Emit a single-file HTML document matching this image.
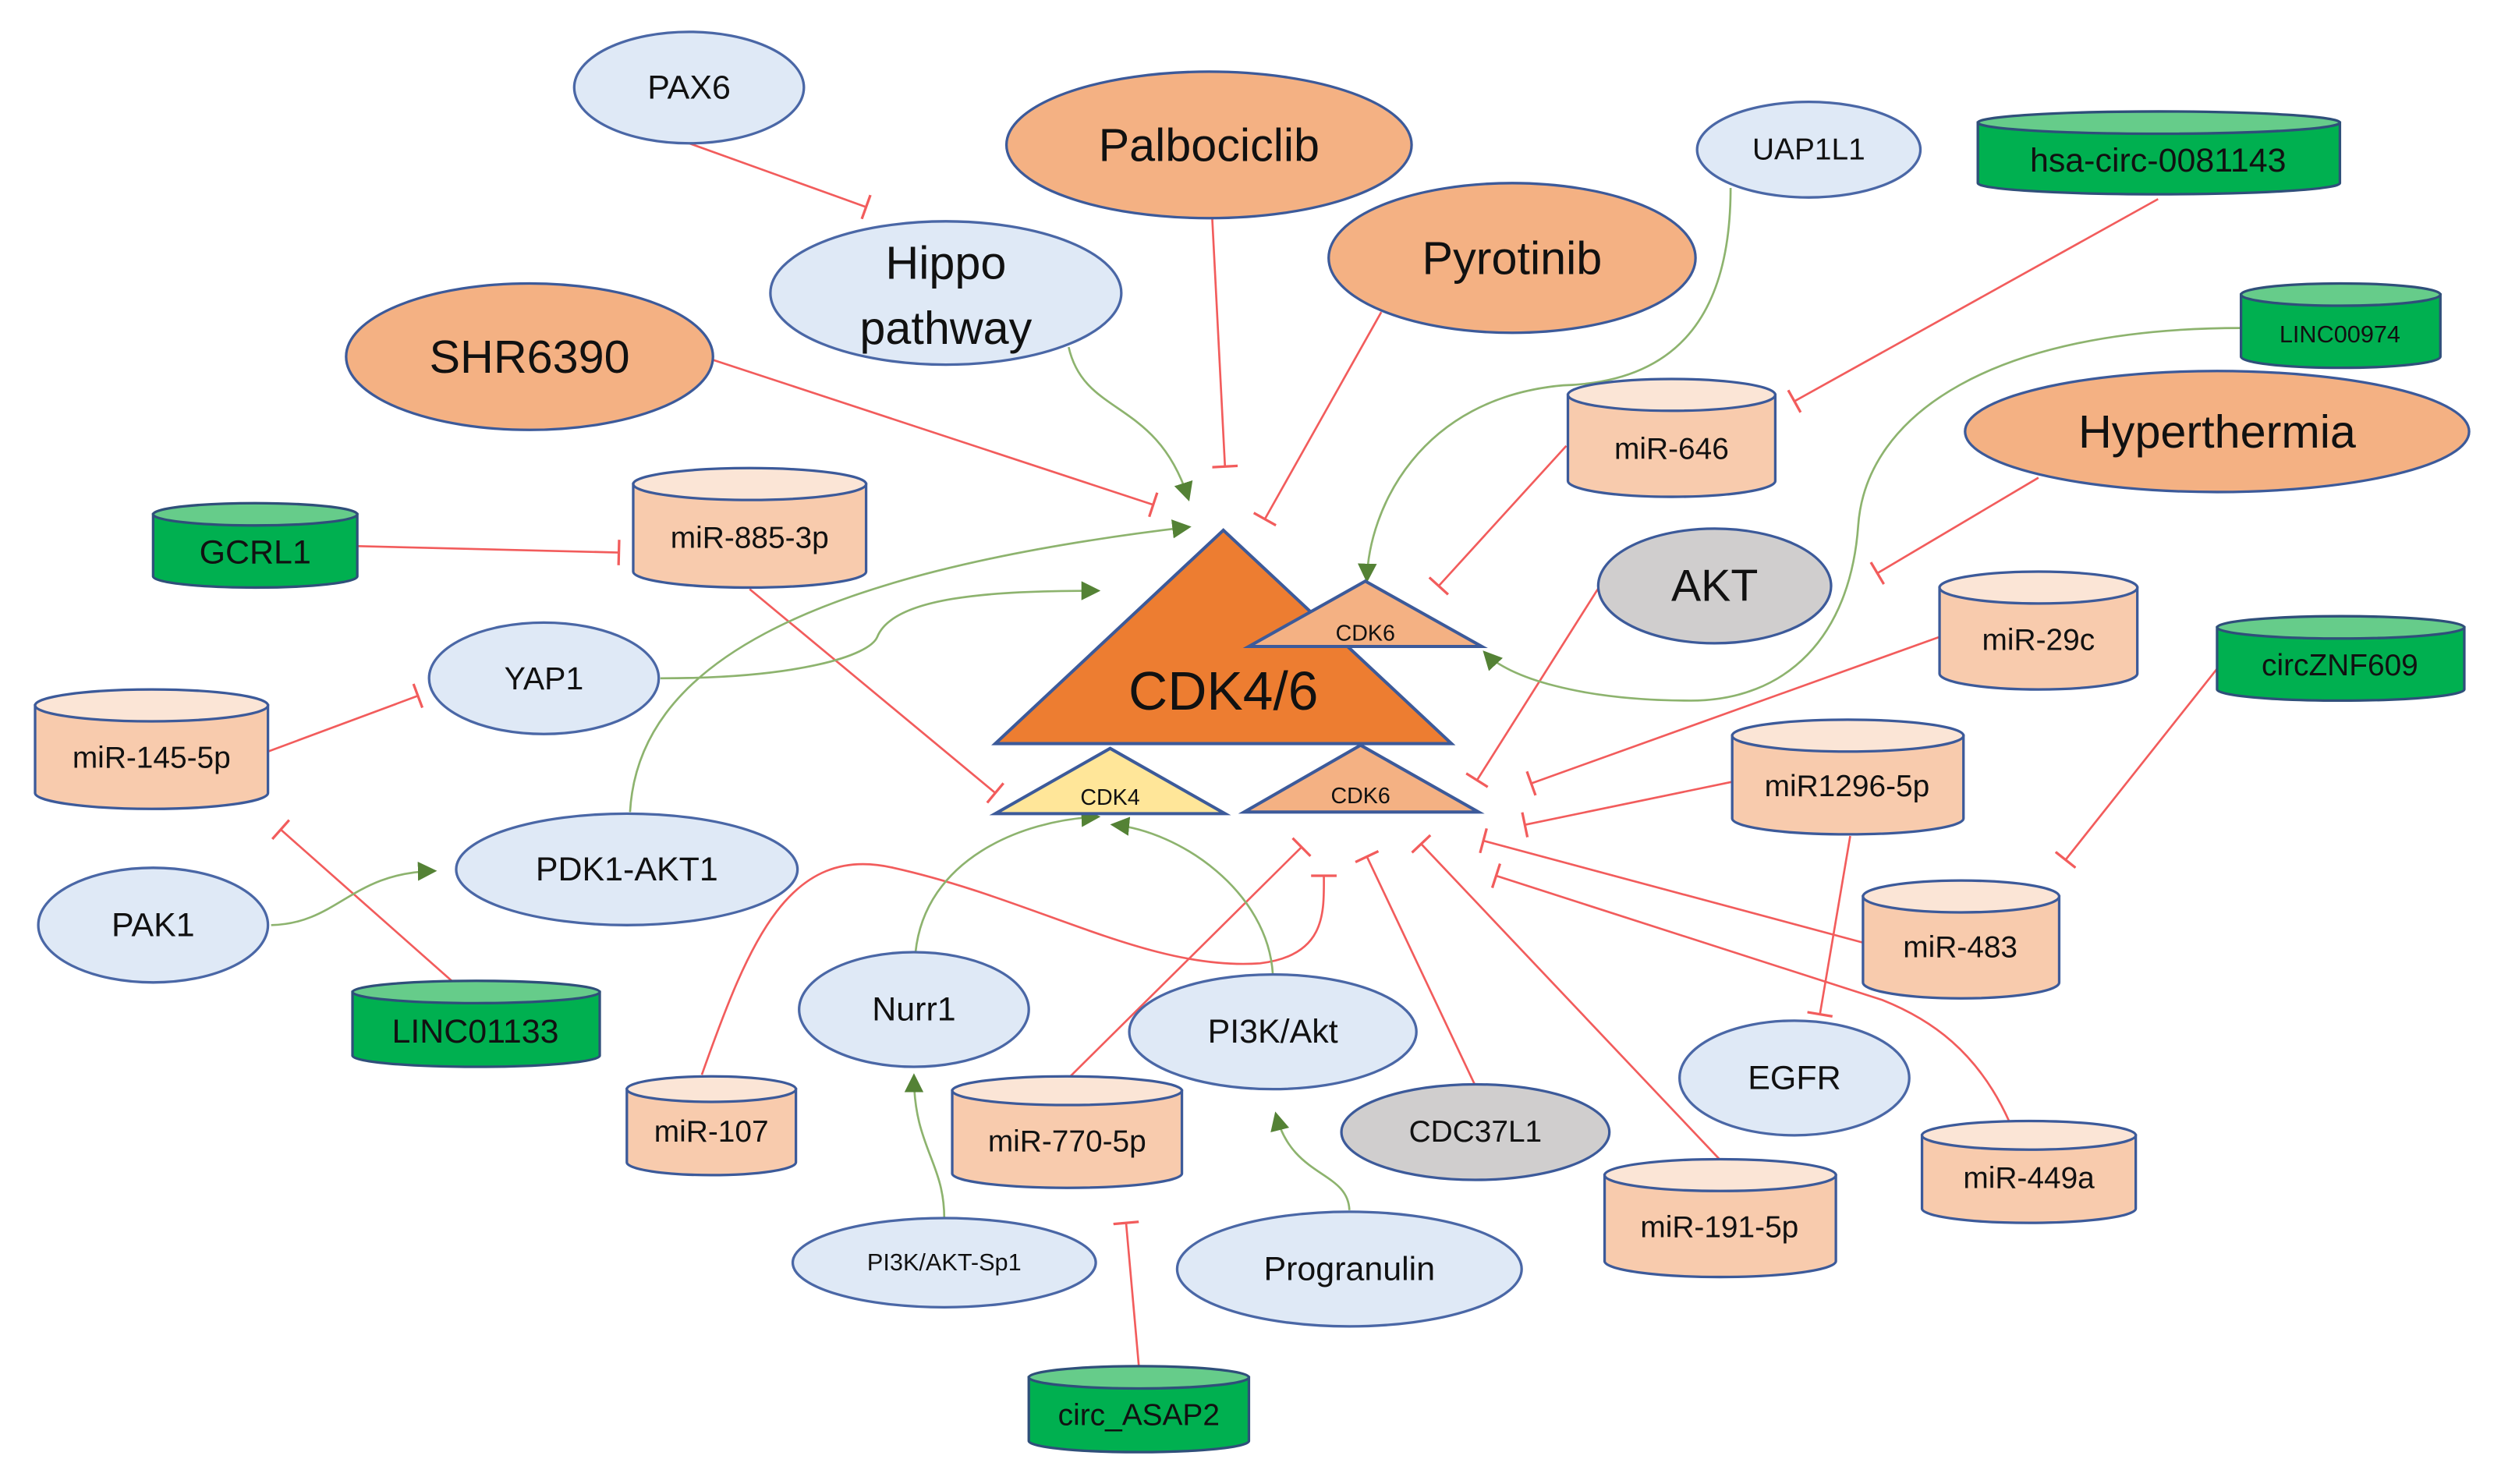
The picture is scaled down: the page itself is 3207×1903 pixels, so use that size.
<!DOCTYPE html>
<html><head><meta charset="utf-8"><style>
html,body{margin:0;padding:0;background:#fff;}
svg{display:block;}
text{font-family:"Liberation Sans",sans-serif;text-anchor:middle;dominant-baseline:central;fill:#111;}
.r{stroke:#f25c5c;stroke-width:1.3;fill:none;marker-end:url(#bar);}
.g{stroke:#8db36e;stroke-width:1.3;fill:none;marker-end:url(#arr);}
.eb{fill:#dfe9f6;stroke:#4a67a6;stroke-width:1.6;}
.eo{fill:#f4b183;stroke:#3c5a9a;stroke-width:1.6;}
.eg{fill:#d0cece;stroke:#3c5a9a;stroke-width:1.6;}
.cp{fill:#f8cbad;stroke:#3c5a9a;stroke-width:1.6;}
.cpt{fill:#fbe5d6;stroke:#3c5a9a;stroke-width:1.6;}
.cg{fill:#00b050;stroke:#2f4f7a;stroke-width:1.6;}
.cgt{fill:#66cc8a;stroke:#2f4f7a;stroke-width:1.6;}
</style></head><body>
<svg width="3207" height="1903" viewBox="0 0 1568 932" preserveAspectRatio="none" xmlns="http://www.w3.org/2000/svg">
<defs>
<marker id="bar" markerUnits="userSpaceOnUse" markerWidth="4" markerHeight="16" refX="2" refY="8" orient="auto" viewBox="0 0 4 16"><path d="M2,0 L2,16" stroke="#f25c5c" stroke-width="1.6"/></marker>
<marker id="arr" markerUnits="userSpaceOnUse" markerWidth="12" markerHeight="12" refX="10" refY="6" orient="auto" viewBox="0 0 12 12"><path d="M0,0 L12,6 L0,12 Z" fill="#548235"/></marker>
</defs>
<rect width="1568" height="932" fill="#fff"/>

<!-- red inhibition edges -->
<path class="r" d="M432,90 L543,130"/>
<path class="r" d="M760,137 L768,293"/>
<path class="r" d="M447,226 L723,317"/>
<path class="r" d="M866,196 L793,326"/>
<path class="r" d="M1353,125 L1125,252"/>
<path class="r" d="M982,280 L902,368"/>
<path class="r" d="M224,343 L388,347"/>
<path class="r" d="M1278,300 L1177,360"/>
<path class="r" d="M1003,368 L926,490"/>
<path class="r" d="M1216,400 L960,492"/>
<path class="r" d="M1086,491 L956,518"/>
<path class="r" d="M1390,420 L1295,540"/>
<path class="r" d="M470,370 L624,498"/>
<path class="r" d="M168,472 L262,437"/>
<path class="r" d="M299,630 L176,521"/>
<path class="r" d="M1168,592 L930,528"/>
<path class="r" d="M1160,525 L1141,637"/>
<path class="r" d="M1260,705 C1240,660 1210,640 1180,628 L938,550"/>
<path class="r" d="M1078,728 L891,530"/>
<path class="r" d="M925,682 L857,538"/>
<path class="r" d="M671,676 L816,532"/>
<path class="r" d="M440,675 C470,590 495,530 560,545 C650,565 720,610 790,605 C832,600 830,572 830,550"/>
<path class="r" d="M714,858 L706,768"/>

<!-- green activation edges -->
<path class="g" d="M670,218 C680,262 725,250 745,313"/>
<path class="g" d="M1085,118 C1085,200 1050,240 980,242 C890,250 858,320 857,364"/>
<path class="g" d="M1405,206 C1250,206 1170,260 1165,330 C1160,400 1120,440 1060,440 C990,440 945,425 931,410"/>
<path class="g" d="M414,426 C500,426 545,412 550,400 C560,375 620,371 688,371"/>
<path class="g" d="M395,510 C400,420 500,360 745,331"/>
<path class="g" d="M170,581 C212,580 220,548 272,547"/>
<path class="g" d="M574,598 C580,540 640,515 688,513"/>
<path class="g" d="M798,612 C795,560 740,522 698,518"/>
<path class="g" d="M592,765 C592,730 573,720 573,676"/>
<path class="g" d="M846,760 C845,735 810,740 800,700"/>

<!-- triangles -->
<polygon points="767,333 910,467 624,467" fill="#ed7d31" stroke="#3c5a9a" stroke-width="2"/>
<text x="767" y="434" font-size="34">CDK4/6</text>
<polygon points="856,365 929,406 783,406" fill="#f4b183" stroke="#3c5a9a" stroke-width="2"/>
<text x="856" y="398" font-size="14">CDK6</text>
<polygon points="696,470 768,511 624,511" fill="#ffe699" stroke="#3c5a9a" stroke-width="2"/>
<text x="696" y="501" font-size="14">CDK4</text>
<polygon points="853,468 927,510 780,510" fill="#f4b183" stroke="#3c5a9a" stroke-width="2"/>
<text x="853" y="500" font-size="14">CDK6</text>

<!-- ellipses -->
<ellipse class="eb" cx="432" cy="55" rx="72" ry="35"/><text x="432" y="55" font-size="21">PAX6</text>
<ellipse class="eo" cx="758" cy="91" rx="127" ry="46"/><text x="758" y="91" font-size="29">Palbociclib</text>
<ellipse class="eb" cx="593" cy="184" rx="110" ry="45"/><text x="593" y="165" font-size="29">Hippo</text><text x="593" y="206" font-size="29">pathway</text>
<ellipse class="eo" cx="948" cy="162" rx="115" ry="47"/><text x="948" y="162" font-size="29">Pyrotinib</text>
<ellipse class="eb" cx="1134" cy="94" rx="70" ry="30"/><text x="1134" y="94" font-size="19">UAP1L1</text>
<ellipse class="eo" cx="332" cy="224" rx="115" ry="46"/><text x="332" y="224" font-size="29">SHR6390</text>
<ellipse class="eo" cx="1390" cy="271" rx="158" ry="38"/><text x="1390" y="271" font-size="29">Hyperthermia</text>
<ellipse class="eg" cx="1075" cy="368" rx="73" ry="36"/><text x="1075" y="368" font-size="28">AKT</text>
<ellipse class="eb" cx="341" cy="426" rx="72" ry="35"/><text x="341" y="426" font-size="20">YAP1</text>
<ellipse class="eb" cx="393" cy="546" rx="107" ry="35"/><text x="393" y="546" font-size="21">PDK1-AKT1</text>
<ellipse class="eb" cx="96" cy="581" rx="72" ry="36"/><text x="96" y="581" font-size="21">PAK1</text>
<ellipse class="eb" cx="573" cy="634" rx="72" ry="36"/><text x="573" y="634" font-size="21">Nurr1</text>
<ellipse class="eb" cx="798" cy="648" rx="90" ry="36"/><text x="798" y="648" font-size="21">PI3K/Akt</text>
<ellipse class="eb" cx="1125" cy="677" rx="72" ry="36"/><text x="1125" y="677" font-size="21">EGFR</text>
<ellipse class="eg" cx="925" cy="711" rx="84" ry="30"/><text x="925" y="711" font-size="19">CDC37L1</text>
<ellipse class="eb" cx="592" cy="793" rx="95" ry="28"/><text x="592" y="793" font-size="15">PI3K/AKT-Sp1</text>
<ellipse class="eb" cx="846" cy="797" rx="108" ry="36"/><text x="846" y="797" font-size="21">Progranulin</text>

<!-- cylinders: body path + top ellipse -->
<!-- hsa-circ-0081143 -->
<path class="cg" d="M1240,77 V115 A113.5,7 0 0 0 1467,115 V77 Z"/><ellipse class="cgt" cx="1353.5" cy="77" rx="113.5" ry="7"/><text x="1353" y="101" font-size="21">hsa-circ-0081143</text>
<!-- LINC00974 -->
<path class="cg" d="M1405,185 V224 A62.5,7 0 0 0 1530,224 V185 Z"/><ellipse class="cgt" cx="1467.5" cy="185" rx="62.5" ry="7"/><text x="1467" y="210" font-size="15">LINC00974</text>
<!-- miR-646 -->
<path class="cp" d="M983,248 V302 A65,10 0 0 0 1113,302 V248 Z"/><ellipse class="cpt" cx="1048" cy="248" rx="65" ry="10"/><text x="1048" y="282" font-size="19">miR-646</text>
<!-- GCRL1 -->
<path class="cg" d="M96,323 V362 A64,7 0 0 0 224,362 V323 Z"/><ellipse class="cgt" cx="160" cy="323" rx="64" ry="7"/><text x="160" y="347" font-size="21">GCRL1</text>
<!-- miR-885-3p -->
<path class="cp" d="M397,304 V359 A73,10 0 0 0 543,359 V304 Z"/><ellipse class="cpt" cx="470" cy="304" rx="73" ry="10"/><text x="470" y="338" font-size="19">miR-885-3p</text>
<!-- miR-29c -->
<path class="cp" d="M1216,369 V423 A62,10 0 0 0 1340,423 V369 Z"/><ellipse class="cpt" cx="1278" cy="369" rx="62" ry="10"/><text x="1278" y="402" font-size="19">miR-29c</text>
<!-- circZNF609 -->
<path class="cg" d="M1390,394 V433 A77.5,7 0 0 0 1545,433 V394 Z"/><ellipse class="cgt" cx="1467.5" cy="394" rx="77.5" ry="7"/><text x="1467" y="418" font-size="19">circZNF609</text>
<!-- miR-145-5p -->
<path class="cp" d="M22,443 V498 A73,10 0 0 0 168,498 V443 Z"/><ellipse class="cpt" cx="95" cy="443" rx="73" ry="10"/><text x="95" y="476" font-size="19">miR-145-5p</text>
<!-- miR1296-5p -->
<path class="cp" d="M1086,462 V514 A72.5,10 0 0 0 1231,514 V462 Z"/><ellipse class="cpt" cx="1158.5" cy="462" rx="72.5" ry="10"/><text x="1158" y="494" font-size="19">miR1296-5p</text>
<!-- LINC01133 -->
<path class="cg" d="M221,623 V663 A77.5,7 0 0 0 376,663 V623 Z"/><ellipse class="cgt" cx="298.5" cy="623" rx="77.5" ry="7"/><text x="298" y="648" font-size="21">LINC01133</text>
<!-- miR-483 -->
<path class="cp" d="M1168,563 V617 A61.5,10 0 0 0 1291,617 V563 Z"/><ellipse class="cpt" cx="1229.5" cy="563" rx="61.5" ry="10"/><text x="1229" y="595" font-size="19">miR-483</text>
<!-- miR-107 -->
<path class="cp" d="M393,684 V730 A53,8 0 0 0 499,730 V684 Z"/><ellipse class="cpt" cx="446" cy="684" rx="53" ry="8"/><text x="446" y="711" font-size="19">miR-107</text>
<!-- miR-770-5p -->
<path class="cp" d="M597,685 V737 A72,9 0 0 0 741,737 V685 Z"/><ellipse class="cpt" cx="669" cy="685" rx="72" ry="9"/><text x="669" y="717" font-size="19">miR-770-5p</text>
<!-- miR-191-5p -->
<path class="cp" d="M1006,738 V792 A72.5,10 0 0 0 1151,792 V738 Z"/><ellipse class="cpt" cx="1078.5" cy="738" rx="72.5" ry="10"/><text x="1078" y="771" font-size="19">miR-191-5p</text>
<!-- miR-449a -->
<path class="cp" d="M1205,713 V759 A67,9 0 0 0 1339,759 V713 Z"/><ellipse class="cpt" cx="1272" cy="713" rx="67" ry="9"/><text x="1272" y="740" font-size="19">miR-449a</text>
<!-- circ_ASAP2 -->
<path class="cg" d="M645,865 V905 A69,7 0 0 0 783,905 V865 Z"/><ellipse class="cgt" cx="714" cy="865" rx="69" ry="7"/><text x="714" y="889" font-size="19">circ_ASAP2</text>
</svg>
</body></html>
